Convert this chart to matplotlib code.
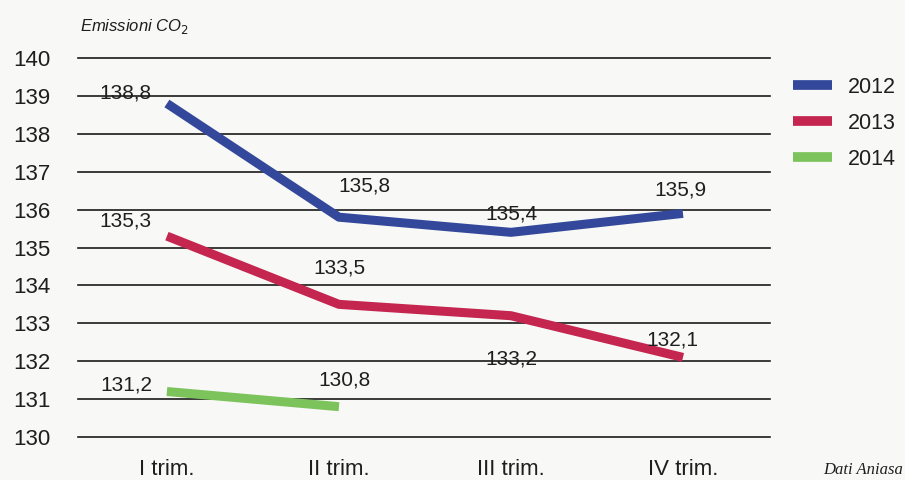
import matplotlib.pyplot as plt

# data
categories = ['I trim.', 'II trim.', 'III trim.', 'IV trim.']
y2012 = [138.8, 135.8, 135.4, 135.9]
y2013 = [135.3, 133.5, 133.2, 132.1]
y2014 = [131.2, 130.8]
yticks = [130, 131, 132, 133, 134, 135, 136, 137, 138, 139, 140]

# label offsets in pixels (dx, dy)
off2012 = [(-41, 10), (25, 31), (0, 18), (-3, 23)]
off2013 = [(-41, 15), (0, 36), (0, -43), (-11, 17)]
off2014 = [(-41, 7), (6, 27)]

colors = {'2012': '#33489b', '2013': '#c4264f', '2014': '#7cc35c'}
bg = '#f8f8f6'
sans = ['Liberation Sans', 'DejaVu Sans']

fig = plt.figure(figsize=(9.05, 4.8), dpi=100, facecolor=bg)
ax = fig.add_axes([78/905, 1-437/480, (770-78)/905, (437-58)/480], facecolor=bg)
ax.set_xlim(-0.517, 3.506)
ax.set_ylim(130, 140)

for v in yticks:
    ax.axhline(v, color='#1a1a1a', lw=1.2, zorder=1, clip_on=False)

series = [('2012', y2012, off2012), ('2013', y2013, off2013), ('2014', y2014, off2014)]
for name, vals, offs in series:
    xs = list(range(len(vals)))
    ax.plot(xs, vals, color=colors[name], lw=6.5, solid_capstyle='butt', zorder=3, label=name)
    for x, v, (dx, dy) in zip(xs, vals, offs):
        ax.annotate(('%.1f' % v).replace('.', ','), (x, v), xytext=(dx, dy),
                    textcoords='offset pixels', ha='center', va='center',
                    fontsize=15, family=sans, color='#1e1e1e', zorder=4)

ax.set_yticks(yticks)
ax.set_yticklabels([str(v) for v in yticks], family=sans, fontsize=16, color='#1e1e1e')
ax.set_xticks(range(4))
ax.set_xticklabels(categories, family=sans, fontsize=16, color='#1e1e1e')
ax.tick_params(axis='y', length=0, pad=20)
ax.tick_params(axis='x', length=0, pad=16)
for s in ax.spines.values():
    s.set_visible(False)

leg = ax.legend(loc='upper left', bbox_to_anchor=(782/905, 1-66/480),
                bbox_transform=fig.transFigure, frameon=False, borderpad=0,
                handlelength=1.8, labelspacing=0.7, handletextpad=0.75,
                prop={'family': sans, 'size': 15.5})
for t in leg.get_texts():
    t.set_color('#1e1e1e')
for h in leg.get_lines():
    h.set_linewidth(7)

fig.text(80/905, 1-26/480, r'Emissioni CO$_2$', family=sans, style='italic',
         fontsize=12, va='center', ha='left', color='#1e1e1e')
fig.text(903/905, 1-470/480, 'Dati Aniasa', family=['Liberation Serif', 'DejaVu Serif'],
         style='italic', fontsize=12, va='center', ha='right', color='#1e1e1e')

fig.savefig('out.png', dpi=100, facecolor=bg)
